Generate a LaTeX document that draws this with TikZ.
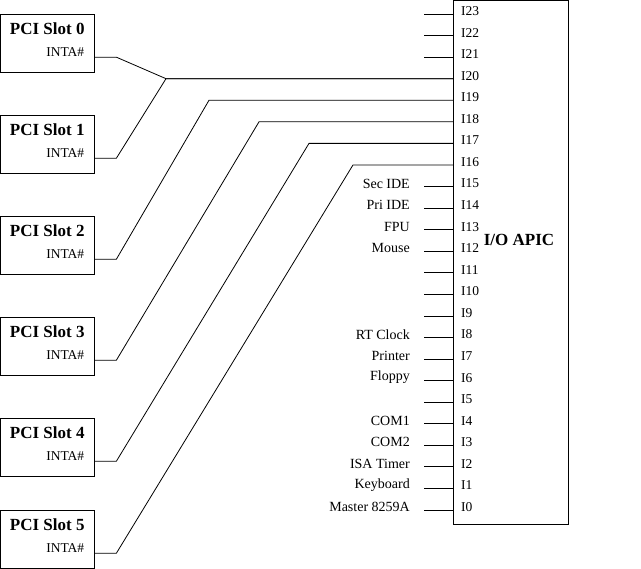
\documentclass[tikz,border=0pt]{standalone}
\usepackage{fontspec}
\setmainfont{Liberation Serif}
\usetikzlibrary{positioning}

\tikzset{
    slotbox/.style={draw, minimum width=94pt, minimum height=58pt, anchor=north west, inner sep=0pt},
    slottitle/.style={font=\bfseries\fontsize{17}{19}\selectfont, inner sep=0pt},
    pintext/.style={font=\fontsize{13.5}{15}\selectfont, inner sep=0pt, anchor=west},
    devtext/.style={font=\fontsize{14}{16}\selectfont, inner sep=0pt, anchor=east},
    wire/.style={draw, line width=0.8pt}
}

\begin{document}
\begin{tikzpicture}[x=1pt, y=1pt]
    \useasboundingbox (0,0) rectangle (641,569);

    % I/O APIC box
    \node[draw, line width=1pt, minimum width=115pt, minimum height=524pt, anchor=north west, inner sep=0pt] (apic) at (453,569) {};
    \node[slottitle] (apicname) at (519,329) {I/O APIC};

    % input pins I0 .. I23
    \foreach \i in {0,...,23} {
        \coordinate (pin\i) at (453, {569-510+21.565*\i});
        \node[pintext] (pinlbl\i) at ([xshift=8pt, yshift=3pt]pin\i) {I\i};
    }

    % short stubs for the ISA side
    \foreach \i in {0,...,15,21,22,23} {
        \coordinate (stub\i) at ([xshift=-29pt]pin\i);
        \draw[wire] (stub\i) -- (pin\i);
    }

    % devices on the legacy pins
    \foreach \i/\dev in {15/Sec IDE, 14/Pri IDE, 13/FPU, 12/Mouse, 8/RT Clock, 7/Printer,
                         6/Floppy, 4/COM1, 3/COM2, 2/ISA Timer, 1/Keyboard, 0/Master 8259A} {
        \node[devtext] (dev\i) at ([xshift=-14pt, yshift=3pt]stub\i) {\dev};
    }

    % PCI slots
    \foreach \s/\top in {0/14, 1/115, 2/216, 3/317, 4/418, 5/510} {
        \node[slotbox] (slot\s) at (0, {569-\top}) {};
        \node[slottitle] (slot\s title) at ([yshift=-15pt]slot\s.north) {PCI Slot \s};
        \node[pintext, anchor=east] (slot\s inta) at ([xshift=-10pt, yshift=-9pt]slot\s.east) {INTA\#};
        \coordinate (slot\s out) at ([yshift=-14pt]slot\s.east);
    }

    % INTA# lines to the APIC
    \foreach \s/\knee/\p in {0/166/20, 1/166/20, 2/209/19, 3/259/18, 4/309/17, 5/353/16} {
        \draw[wire] (slot\s out) -- ++(22,0) -- (\knee,0 |- pin\p) -- (pin\p);
    }
\end{tikzpicture}
\end{document}
